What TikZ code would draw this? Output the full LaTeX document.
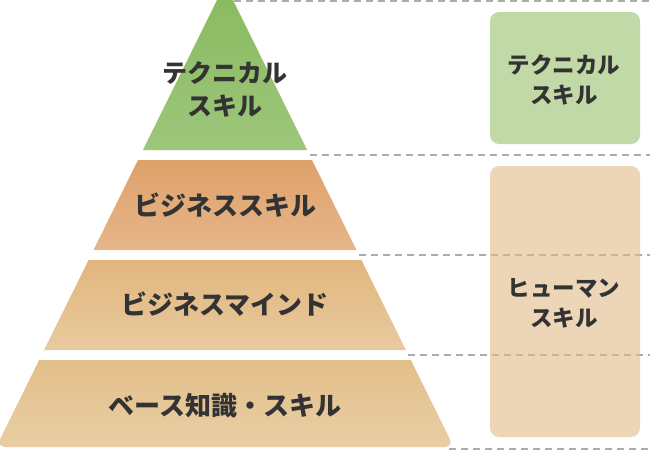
\documentclass[tikz,border=0pt]{standalone}
\usepackage{fontspec}
\setmainfont{Noto Sans CJK JP}
\definecolor{txt}{HTML}{333333}
\definecolor{dashc}{HTML}{ABABAB}
\definecolor{gtop}{HTML}{89BA5E}
\definecolor{gbot}{HTML}{9DC67B}
\definecolor{otop}{HTML}{DFA16A}
\definecolor{obot}{HTML}{E6B68B}
\definecolor{mtop}{HTML}{E1B67D}
\definecolor{mbot}{HTML}{E9CA9F}
\definecolor{btop}{HTML}{E2BF89}
\definecolor{bbot}{HTML}{E9CEA5}
\definecolor{gbox}{HTML}{C1D9A7}
\definecolor{hbox}{RGB}{225,187,135}
\tikzset{
  lbl/.style={text=txt, font=\bfseries\fontsize{26}{34}\selectfont, align=center, inner sep=0pt},
  lbltwo/.style={text=txt, font=\bfseries\fontsize{25}{33}\selectfont, align=center, inner sep=0pt},
  blbl/.style={text=txt, font=\bfseries\fontsize{22.5}{30}\selectfont, align=center, inner sep=0pt},
  guide/.style={draw=dashc, line width=2pt, dash pattern=on 7pt off 5pt},
}
\begin{document}
\begin{tikzpicture}[x=1pt,y=-1pt]
\useasboundingbox (0,0) rectangle (650,450);
\clip (0,0) rectangle (650,450);
% guide lines
\coordinate (g0s) at (234,1); \coordinate (g0e) at (652,1);
\coordinate (g1s) at (310,155); \coordinate (g1e) at (652,155);
\coordinate (g2s) at (359,255); \coordinate (g2e) at (652,255);
\coordinate (g3s) at (408,355); \coordinate (g3e) at (652,355);
\coordinate (g4s) at (449,449); \coordinate (g4e) at (652,449);
\foreach \i in {0,...,4} \draw[guide] (g\i s) -- (g\i e);
% pyramid tiers
\shade[top color=gtop, bottom color=gbot] (142.9,150) [rounded corners=13pt] -- (225,-16) [sharp corners] -- (307.1,150) -- cycle;
\shade[top color=otop, bottom color=obot] (138,160) -- (312,160) -- (356.5,250) -- (93.5,250) -- cycle;
\shade[top color=mtop, bottom color=mbot] (88.6,260) -- (361.4,260) -- (405.9,350) -- (44.1,350) -- cycle;
\shade[top color=btop, bottom color=bbot] (39.2,360) [rounded corners=9pt] -- (-3.8,447) -- (453.8,447) [sharp corners] -- (410.8,360) -- cycle;
% right boxes
\fill[gbox, rounded corners=9pt] (490,12) rectangle (640,144);
\fill[hbox, fill opacity=0.6, rounded corners=9pt] (490,166) rectangle (640,437);
% labels
\node[lbltwo] (t1) at (225,89) {テクニカル\\スキル};
\node[lbl] (t2) at (225,205) {ビジネススキル};
\node[lbl] (t3) at (225,304) {ビジネスマインド};
\node[lbl] (t4) at (225,406) {ベース知識・スキル};
\node[blbl] (b1) at (564,80) {テクニカル\\スキル};
\node[blbl] (b2) at (564,303) {ヒューマン\\スキル};
\end{tikzpicture}
\end{document}
